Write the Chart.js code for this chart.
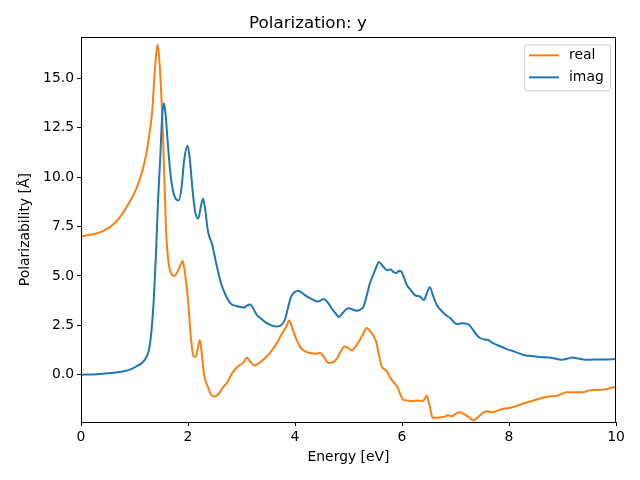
<!DOCTYPE html>
<html>
<head>
<meta charset="utf-8">
<script src="https://cdn.jsdelivr.net/npm/chart.js@4/dist/chart.umd.min.js"></script>
<style>
html,body{margin:0;padding:0;background:#fff;}
#wrap{width:640px;height:480px;}
</style>
</head>
<body>
<div id="wrap"><canvas id="c" width="640" height="480"></canvas></div>
<script>
const realX = [0.0,0.2,0.4,0.6,0.75,0.9,1.0,1.1,1.2,1.28,1.33,1.38,1.43,1.47,1.53,1.59,1.63,1.68,1.74,1.8,1.86,1.9,1.94,2.0,2.05,2.1,2.14,2.18,2.22,2.26,2.3,2.37,2.43,2.49,2.56,2.65,2.74,2.83,2.93,3.03,3.1,3.16,3.24,3.36,3.47,3.56,3.66,3.76,3.84,3.89,3.95,4.03,4.1,4.19,4.28,4.37,4.47,4.55,4.62,4.7,4.78,4.85,4.93,5.0,5.06,5.14,5.22,5.28,5.34,5.42,5.51,5.57,5.62,5.67,5.72,5.78,5.83,5.91,5.97,6.02,6.1,6.2,6.27,6.37,6.42,6.46,6.52,6.57,6.65,6.72,6.8,6.86,6.93,7.0,7.08,7.15,7.25,7.33,7.42,7.5,7.59,7.7,7.8,7.9,8.02,8.14,8.26,8.4,8.58,8.75,8.9,9.0,9.08,9.25,9.38,9.5,9.65,9.8,9.93,10.0];
const realY = [7.0,7.1,7.25,7.6,8.05,8.7,9.2,9.9,10.9,12.2,13.3,15.4,16.7,15.7,12.3,7.3,5.8,5.15,5.0,5.2,5.55,5.75,5.2,3.8,2.0,0.95,0.9,1.3,1.76,1.0,0.0,-0.6,-1.0,-1.1,-1.0,-0.65,-0.35,0.1,0.42,0.6,0.86,0.67,0.47,0.66,0.92,1.2,1.6,2.1,2.45,2.74,2.35,1.76,1.4,1.18,1.1,1.06,1.1,0.85,0.6,0.62,0.8,1.15,1.43,1.35,1.23,1.45,1.8,2.1,2.37,2.15,1.73,1.0,0.42,0.28,0.17,-0.15,-0.34,-0.59,-1.0,-1.26,-1.3,-1.34,-1.3,-1.34,-1.25,-1.06,-1.6,-2.17,-2.17,-2.15,-2.12,-2.05,-2.1,-1.98,-1.9,-1.98,-2.15,-2.3,-2.15,-1.95,-1.85,-1.9,-1.8,-1.72,-1.67,-1.58,-1.46,-1.35,-1.2,-1.1,-1.06,-0.95,-0.89,-0.89,-0.89,-0.79,-0.77,-0.74,-0.64,-0.62];
const imagX = [0.0,0.3,0.6,0.8,0.95,1.05,1.12,1.2,1.27,1.32,1.36,1.4,1.44,1.48,1.52,1.55,1.58,1.62,1.67,1.72,1.77,1.83,1.88,1.93,1.99,2.03,2.08,2.13,2.19,2.24,2.28,2.32,2.37,2.45,2.53,2.62,2.7,2.8,2.9,2.99,3.05,3.1,3.16,3.22,3.28,3.35,3.45,3.56,3.66,3.74,3.81,3.87,3.92,3.97,4.06,4.15,4.23,4.31,4.43,4.54,4.6,4.7,4.76,4.82,4.9,4.99,5.08,5.15,5.22,5.28,5.34,5.4,5.47,5.52,5.57,5.64,5.72,5.79,5.84,5.89,5.94,5.98,6.04,6.09,6.16,6.24,6.34,6.41,6.46,6.52,6.58,6.65,6.75,6.83,6.9,7.02,7.12,7.24,7.32,7.4,7.46,7.54,7.61,7.7,7.8,7.96,8.1,8.27,8.42,8.58,8.8,8.99,9.1,9.18,9.3,9.42,9.6,9.8,10.0];
const imagY = [0.0,0.03,0.1,0.18,0.3,0.45,0.55,0.8,1.26,2.3,3.8,6.0,8.8,10.9,13.2,13.73,13.2,11.8,10.2,9.3,8.9,8.82,9.5,10.9,11.59,11.0,9.5,8.3,7.9,8.5,8.9,8.4,7.3,6.6,5.6,4.6,4.05,3.6,3.48,3.43,3.4,3.5,3.55,3.35,3.05,2.87,2.65,2.5,2.44,2.5,2.77,3.4,3.9,4.13,4.25,4.1,3.95,3.83,3.7,3.83,3.7,3.3,3.1,2.92,3.15,3.37,3.3,3.24,3.3,3.44,4.0,4.63,5.1,5.45,5.71,5.5,5.29,5.33,5.2,5.14,5.25,5.24,4.9,4.54,4.3,4.03,3.95,3.78,4.1,4.43,4.0,3.53,3.2,3.0,2.87,2.57,2.6,2.55,2.3,2.0,1.86,1.78,1.76,1.6,1.48,1.3,1.17,1.0,0.95,0.9,0.85,0.76,0.82,0.87,0.82,0.76,0.77,0.77,0.79];
const xTicks = [0,2,4,6,8,10];
const yTicks = [0,2.5,5,7.5,10,12.5,15];
const seriesNames = ['real','imag'];
const seriesColors = ['#ff7f0e','#1f77b4'];

const FONT = "'DejaVu Sans', sans-serif";

const framePlugin = {
  id: 'frame',
  afterDatasetsDraw(chart) {
    const a = chart.chartArea, ctx = chart.ctx;
    ctx.save();
    ctx.strokeStyle = '#000';
    ctx.lineWidth = 1;
    ctx.strokeRect(Math.round(a.left)+0.5, Math.round(a.top)+0.5, Math.round(a.right-a.left)-1, Math.round(a.bottom-a.top));
    // legend
    const lx = a.right - 92, ly = a.top + 7, lw = 86, lh = 46;
    ctx.fillStyle = 'rgba(255,255,255,0.8)';
    ctx.strokeStyle = '#cccccc';
    ctx.beginPath();
    if (ctx.roundRect) ctx.roundRect(lx+0.5, ly+0.5, lw, lh, 3); else ctx.rect(lx+0.5, ly+0.5, lw, lh);
    ctx.fill(); ctx.stroke();
    ctx.font = '13.9px ' + FONT;
    ctx.textBaseline = 'middle';
    ctx.textAlign = 'left';
    for (let i = 0; i < seriesNames.length; i++) {
      const yy = ly + 11 + i*22;
      ctx.strokeStyle = seriesColors[i];
      ctx.lineWidth = 2;
      ctx.beginPath(); ctx.moveTo(lx+5, yy); ctx.lineTo(lx+35, yy); ctx.stroke();
      ctx.fillStyle = '#000';
      ctx.fillText(seriesNames[i], lx+45, yy);
    }
    ctx.restore();
  }
};

const toPts = (xs, ys) => xs.map((x,i)=>({x:x, y:ys[i]}));

new Chart(document.getElementById('c'), {
  type: 'line',
  data: {
    datasets: [
      {label: seriesNames[0], data: toPts(realX, realY), borderColor: seriesColors[0], borderWidth: 2, pointRadius: 0, fill: false, cubicInterpolationMode: 'monotone', order: 1},
      {label: seriesNames[1], data: toPts(imagX, imagY), borderColor: seriesColors[1], borderWidth: 2, pointRadius: 0, fill: false, cubicInterpolationMode: 'monotone', order: 0}
    ]
  },
  options: {
    responsive: false,
    animation: false,
    events: [],
    layout: {padding: {left: 0, right: 24, top: 0, bottom: 0}},
    plugins: {
      legend: {display: false},
      tooltip: {enabled: false},
      title: {display: true, text: 'Polarization: y', color: '#000', font: {family: FONT, size: 16.7, weight: 'normal'}, padding: {top: 14, bottom: 3.3}}
    },
    scales: {
      x: {
        type: 'linear', min: 0, max: 10,
        afterBuildTicks(s) { s.ticks = xTicks.map(v=>({value:v})); },
        afterFit(s) { s.height = 58; },
        grid: {display: true, drawOnChartArea: false, drawTicks: true, tickLength: 4, color: '#000'},
        border: {display: true, color: '#000'},
        ticks: {color: '#000', padding: 3, font: {family: FONT, size: 13.9}, maxRotation: 0, callback: v => String(v)},
        title: {display: true, text: 'Energy [eV]', color: '#000', font: {family: FONT, size: 13.9}, padding: {top: 0, bottom: 14}}
      },
      y: {
        type: 'linear', min: -2.39, max: 17.07,
        afterBuildTicks(s) { s.ticks = yTicks.map(v=>({value:v})); },
        afterFit(s) { s.width = 81; },
        grid: {display: true, drawOnChartArea: false, drawTicks: true, tickLength: 4, color: '#000'},
        border: {display: true, color: '#000'},
        ticks: {color: '#000', padding: 3, font: {family: FONT, size: 13.9}, callback: v => v.toFixed(1)},
        title: {display: true, text: 'Polarizability [Å]', color: '#000', font: {family: FONT, size: 13.9}, padding: {top: 17, bottom: 0}}
      }
    }
  },
  plugins: [framePlugin]
});
</script>
</body>
</html>
